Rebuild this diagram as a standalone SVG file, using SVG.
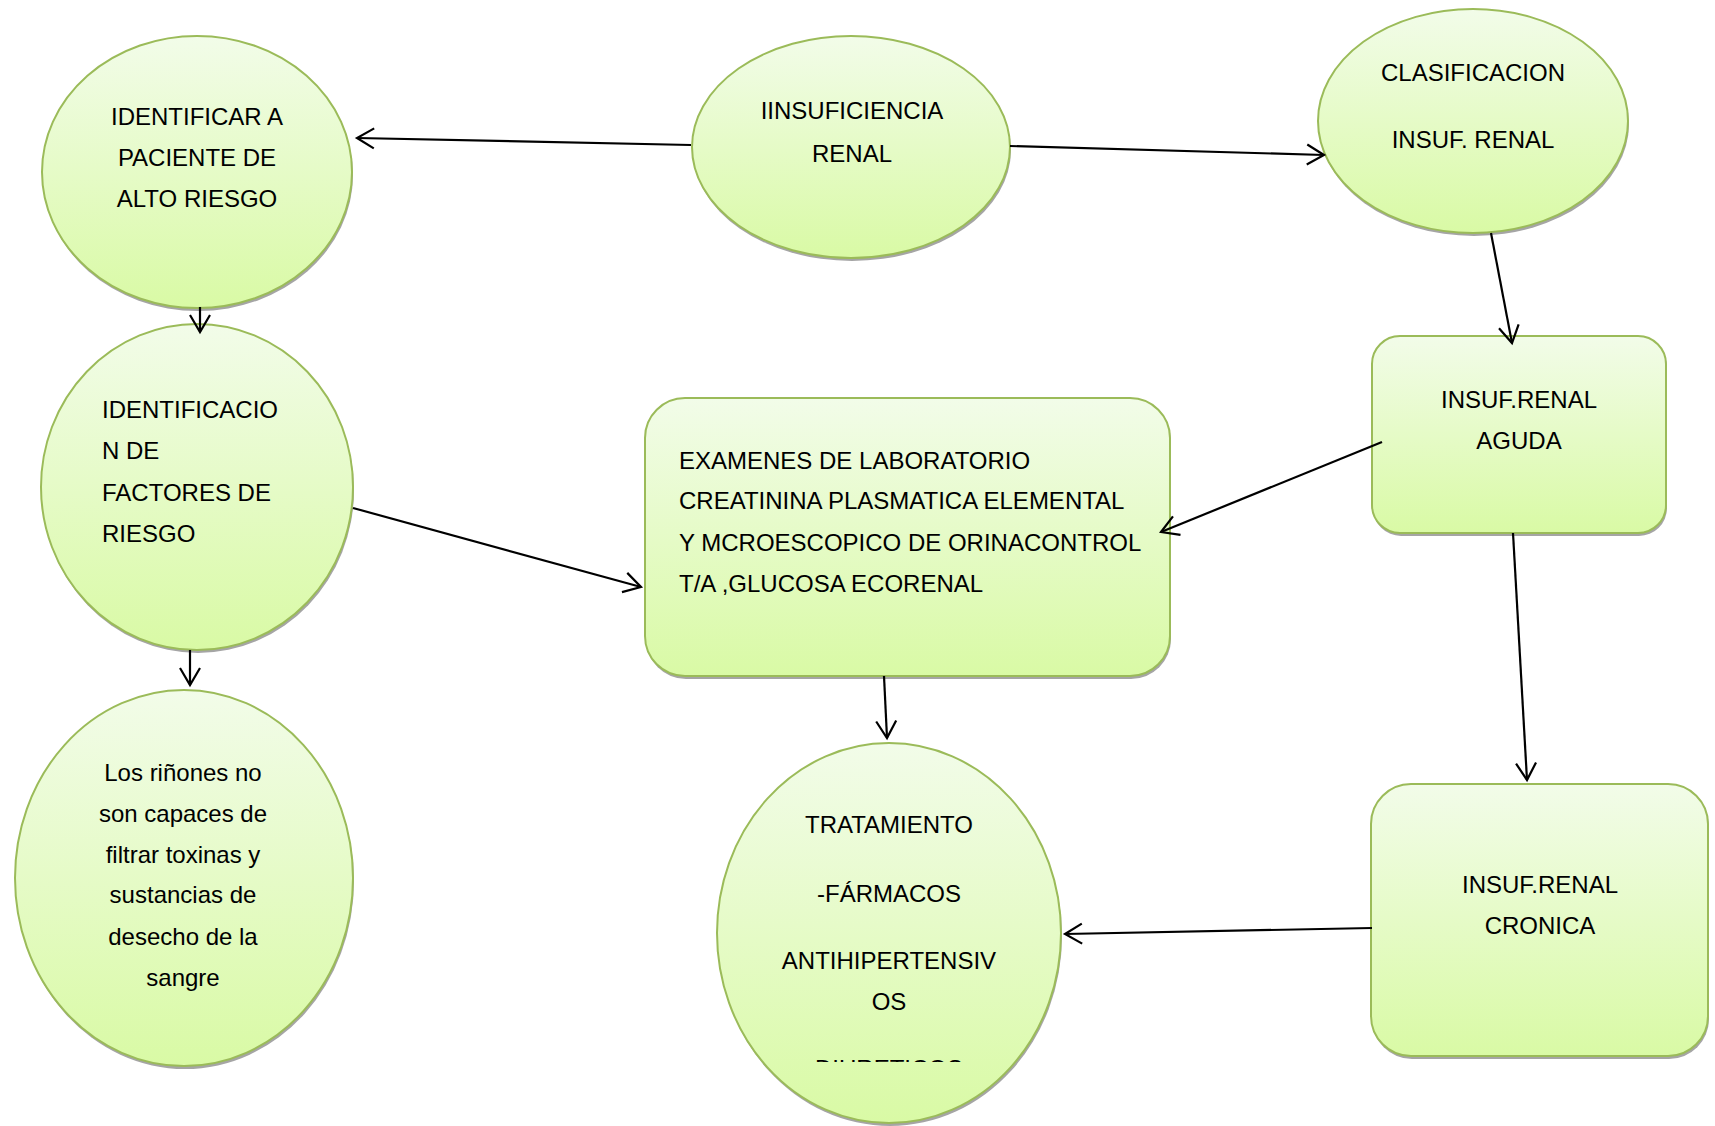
<svg xmlns="http://www.w3.org/2000/svg" width="1715" height="1126" viewBox="0 0 1715 1126">
  <style>
    .shape { fill: url(#greenFill); stroke: #9BBB59; stroke-width: 2; }
    .shadow { fill: #A5A5A5; }
    .label { font-family: "Liberation Sans", Arial, sans-serif; font-size: 24px; fill: #000; }
    .mid { text-anchor: middle; }
    .edge { stroke: #000; stroke-width: 2.2; fill: none; marker-end: url(#openArrow); }
  </style>
  <defs>
    <linearGradient id="greenFill" x1="0" y1="0" x2="0" y2="1">
      <stop offset="0" stop-color="#F2FCE9"/>
      <stop offset="1" stop-color="#D9FAA5"/>
    </linearGradient>
    <marker id="openArrow" markerUnits="userSpaceOnUse" viewBox="-20 -12 24 24" markerWidth="24" markerHeight="24" refX="0" refY="0" orient="auto">
      <path d="M-17,-10 L0,0 L-17,10" fill="none" stroke="#000" stroke-width="2.2"/>
    </marker>
    <clipPath id="treatClip">
      <rect x="700" y="740" width="380" height="322"/>
    </clipPath>
  </defs>

  <rect width="1715" height="1126" fill="#fff"/>

  <!-- identify high-risk patient -->
  <g id="node-identificar">
    <ellipse class="shadow" cx="198" cy="175" rx="155" ry="136"/>
    <ellipse class="shape" cx="197" cy="172" rx="155" ry="136"/>
    <text class="label mid" x="197" y="125">IDENTIFICAR A</text>
    <text class="label mid" x="197" y="166">PACIENTE DE</text>
    <text class="label mid" x="197" y="207">ALTO RIESGO</text>
  </g>

  <!-- central topic -->
  <g id="node-insuficiencia">
    <ellipse class="shadow" cx="852" cy="150" rx="159" ry="111"/>
    <ellipse class="shape" cx="851" cy="147" rx="159" ry="111"/>
    <text class="label mid" x="852" y="119">IINSUFICIENCIA</text>
    <text class="label mid" x="852" y="162">RENAL</text>
  </g>

  <!-- classification -->
  <g id="node-clasificacion">
    <ellipse class="shadow" cx="1474" cy="124" rx="155" ry="112"/>
    <ellipse class="shape" cx="1473" cy="121" rx="155" ry="112"/>
    <text class="label mid" x="1473" y="81">CLASIFICACION</text>
    <text class="label mid" x="1473" y="148">INSUF. RENAL</text>
  </g>

  <!-- risk factors -->
  <g id="node-factores">
    <ellipse class="shadow" cx="198" cy="490" rx="156" ry="163"/>
    <ellipse class="shape" cx="197" cy="487" rx="156" ry="163"/>
    <text class="label" x="102" y="418">IDENTIFICACIO</text>
    <text class="label" x="102" y="459">N DE</text>
    <text class="label" x="102" y="501">FACTORES DE</text>
    <text class="label" x="102" y="542">RIESGO</text>
  </g>

  <!-- description -->
  <g id="node-rinones">
    <ellipse class="shadow" cx="185" cy="881" rx="169" ry="188"/>
    <ellipse class="shape" cx="184" cy="878" rx="169" ry="188"/>
    <text class="label mid" x="183" y="781">Los riñones no</text>
    <text class="label mid" x="183" y="822">son capaces de</text>
    <text class="label mid" x="183" y="863">filtrar toxinas y</text>
    <text class="label mid" x="183" y="903">sustancias de</text>
    <text class="label mid" x="183" y="945">desecho de la</text>
    <text class="label mid" x="183" y="986">sangre</text>
  </g>

  <!-- laboratory tests -->
  <g id="node-examenes">
    <rect class="shadow" x="646" y="401" width="525" height="278" rx="40" ry="40"/>
    <rect class="shape" x="645" y="398" width="525" height="278" rx="40" ry="40"/>
    <text class="label" x="679" y="469">EXAMENES DE LABORATORIO</text>
    <text class="label" x="679" y="509">CREATININA PLASMATICA ELEMENTAL</text>
    <text class="label" x="679" y="551">Y MCROESCOPICO DE ORINACONTROL</text>
    <text class="label" x="679" y="592">T/A ,GLUCOSA ECORENAL</text>
  </g>

  <!-- acute -->
  <g id="node-aguda">
    <rect class="shadow" x="1373" y="339" width="294" height="197" rx="28" ry="28"/>
    <rect class="shape" x="1372" y="336" width="294" height="197" rx="28" ry="28"/>
    <text class="label mid" x="1519" y="408">INSUF.RENAL</text>
    <text class="label mid" x="1519" y="449">AGUDA</text>
  </g>

  <!-- treatment -->
  <g id="node-tratamiento">
    <ellipse class="shadow" cx="890" cy="936" rx="172" ry="190"/>
    <ellipse class="shape" cx="889" cy="933" rx="172" ry="190"/>
    <g clip-path="url(#treatClip)">
      <text class="label mid" x="889" y="833">TRATAMIENTO</text>
      <text class="label mid" x="889" y="902">-FÁRMACOS</text>
      <text class="label mid" x="889" y="969">ANTIHIPERTENSIV</text>
      <text class="label mid" x="889" y="1010">OS</text>
      <text class="label mid" x="889" y="1077">DIURETICOS</text>
    </g>
  </g>

  <!-- chronic -->
  <g id="node-cronica">
    <rect class="shadow" x="1372" y="787" width="337" height="272" rx="40" ry="40"/>
    <rect class="shape" x="1371" y="784" width="337" height="272" rx="40" ry="40"/>
    <text class="label mid" x="1540" y="893">INSUF.RENAL</text>
    <text class="label mid" x="1540" y="934">CRONICA</text>
  </g>

  <g id="connectors">
    <line class="edge" x1="691" y1="145" x2="357" y2="138"/>
    <line class="edge" x1="1010" y1="146" x2="1324" y2="155"/>
    <line class="edge" x1="1491" y1="233" x2="1512" y2="343"/>
    <line class="edge" x1="200" y1="307" x2="200" y2="332"/>
    <line class="edge" x1="353" y1="508" x2="641" y2="587"/>
    <line class="edge" x1="1382" y1="442" x2="1161" y2="532"/>
    <line class="edge" x1="190" y1="650" x2="190" y2="685"/>
    <line class="edge" x1="884" y1="676" x2="887" y2="738"/>
    <line class="edge" x1="1513" y1="533" x2="1527" y2="780"/>
    <line class="edge" x1="1372" y1="928" x2="1065" y2="934"/>
  </g>
</svg>
